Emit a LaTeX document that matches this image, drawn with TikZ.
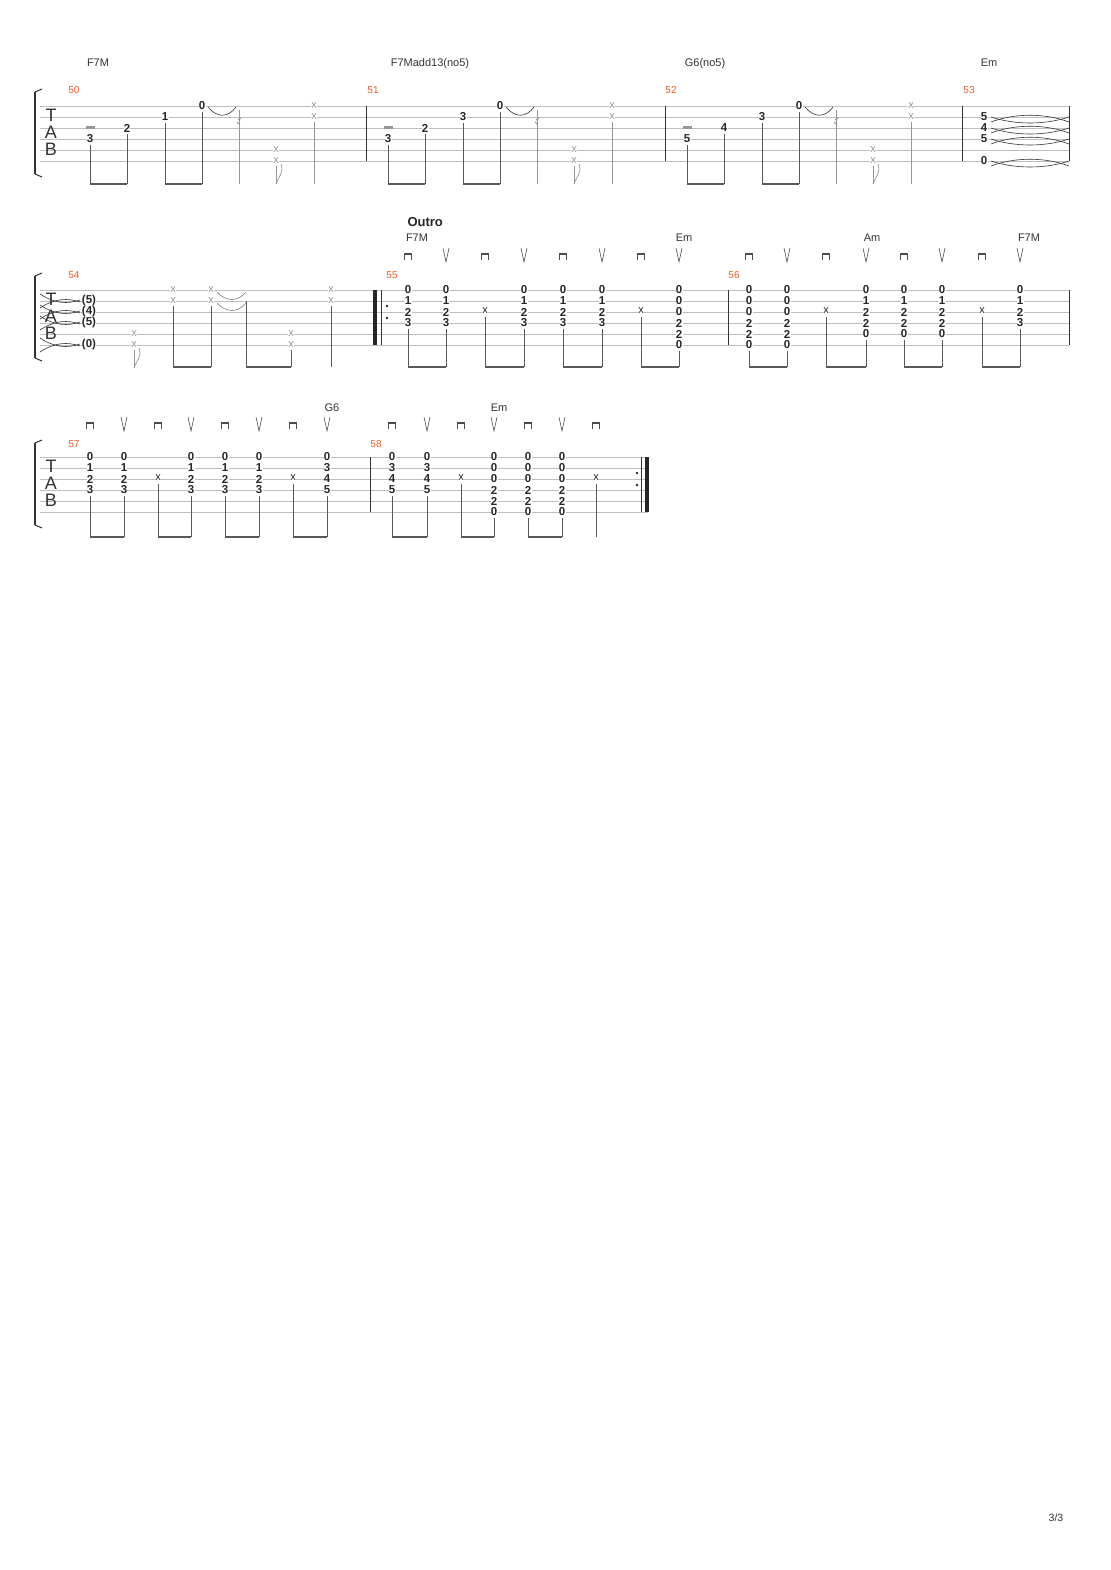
\documentclass[tikz,border=0pt]{standalone}
\usepackage{fontspec}
\setmainfont{Liberation Sans}
\definecolor{barnum}{RGB}{240,90,40}
\definecolor{ghost}{RGB}{150,150,150}
\definecolor{staffline}{RGB}{190,190,190}
\tikzset{
  fret/.style={font=\bfseries\fontsize{11.5}{11}\selectfont, inner sep=0.3pt, fill=white, text=black!85},
  dead/.style={font=\fontsize{11}{11}\selectfont, inner sep=0.2pt, fill=white, text=#1},
  dead/.default=black!85,
  chordname/.style={font=\fontsize{11}{11}\selectfont, text=black!80, anchor=base},
  barno/.style={font=\fontsize{10}{10}\selectfont, text=barnum, anchor=base},
  stemline/.style={black!65, line width=0.7pt},
  beamline/.style={black!65, line width=2pt},
  tieline/.style={black!80, line width=0.6pt},
}
\newcommand\staff[3]{% top y, x start, x end
  \foreach \s in {0,...,5} \draw[staffline, line width=0.5pt] (#2,{#1+\s*11}) -- (#3,{#1+\s*11});
  \draw[line width=1.6pt, black!80] (35,{#1-14}) -- (35,{#1+68});
  \draw[line width=1pt, black!80] (35,{#1-14}) -- (42,{#1-17});
  \draw[line width=1pt, black!80] (35,{#1+68}) -- (42,{#1+71});
  \node[font=\fontsize{18}{18}\selectfont, text=black!80] at (51,{#1+9}) {T};
  \node[font=\fontsize{18}{18}\selectfont, text=black!80] at (51,{#1+26}) {A};
  \node[font=\fontsize{18}{18}\selectfont, text=black!80] at (51,{#1+43}) {B};
}
\newcommand\dnstroke[2]{\draw[black!70, line width=0.6pt] (#1-3.5,#2+4) -- (#1-3.5,#2-3) -- (#1+3.5,#2-3) -- (#1+3.5,#2+4); \fill[black!70] (#1-3.5,#2-3) rectangle (#1+3.5,#2-1.2);}
\newcommand\upstroke[2]{\draw[black!70, line width=0.6pt] (#1-3,#2-7) -- (#1,#2+7) -- (#1+3,#2-7);}
\begin{document}
\begin{tikzpicture}[x=1pt,y=-1pt]
\useasboundingbox[fill=white] (0,0) rectangle (1110,1570);

% ----- row 1 -----
\def\rt{106}
\staff{\rt}{40}{1069}
\foreach \bx in {366,665,962,1069} \draw[black!80, line width=0.8pt] (\bx,\rt) -- (\bx,\rt+55);
\node[chordname] at (98,67) {F7M};
\node[chordname] at (430,67) {F7Madd13(no5)};
\node[chordname] at (705,67) {G6(no5)};
\node[chordname] at (989,67) {Em};
\foreach \bx/\bn in {74/50,373/51,671/52,969/53} \node[barno] at (\bx,94) {\bn};
\foreach \ox/\a/\b/\c in {0/3/2/1, 298/3/2/3, 597/5/4/3} {
  \fill[ghost] ({90+\ox-4.5},126.5) rectangle ({90+\ox+4.5},129.5);
  \node[fret] at ({90+\ox},139) {\a};
  \node[fret] at ({127+\ox},128) {\b};
  \node[fret] at ({165+\ox},117) {\c};
  \node[fret] at ({202+\ox},106) {0};
  \draw[tieline] ({208+\ox},107) .. controls ({217+\ox},118) and ({228+\ox},118) .. ({236+\ox},107);
  \draw[stemline] ({90+\ox},145) -- ({90+\ox},184);
  \draw[stemline] ({127+\ox},134) -- ({127+\ox},184);
  \draw[stemline] ({165+\ox},123) -- ({165+\ox},184);
  \draw[stemline] ({202+\ox},112) -- ({202+\ox},184);
  \draw[beamline] ({90+\ox},184) -- ({127+\ox},184);
  \draw[beamline] ({165+\ox},184) -- ({202+\ox},184);
  \draw[ghost, line width=0.7pt] ({239+\ox},110) -- ({239+\ox},184);
  \draw[ghost, line width=1pt] ({237+\ox},122) -- ({240+\ox},125) ({238+\ox},120) -- ({241+\ox},118);
  \node[dead=ghost] at ({276+\ox},150) {x};
  \node[dead=ghost] at ({276+\ox},161) {x};
  \draw[ghost, line width=0.7pt] ({276+\ox},166) -- ({276+\ox},184);
  \draw[ghost, line width=0.7pt] ({276+\ox},184) .. controls ({279+\ox},176) and ({284+\ox},172) .. ({281+\ox},164);
  \node[dead=ghost] at ({314+\ox},106) {x};
  \node[dead=ghost] at ({314+\ox},117) {x};
  \draw[ghost, line width=0.7pt] ({314+\ox},122) -- ({314+\ox},184);
}
\foreach \s in {2,3,4,6} {
  \draw[tieline] (991,{\rt+(\s-1)*11}) .. controls (1015,{\rt+(\s-1)*11+8}) and (1045,{\rt+(\s-1)*11+8}) .. (1069,{\rt+(\s-1)*11});
  \draw[tieline] (991,{\rt+(\s-1)*11+5}) .. controls (1015,{\rt+(\s-1)*11-4}) and (1045,{\rt+(\s-1)*11-4}) .. (1069,{\rt+(\s-1)*11+5});
}
\foreach \s/\f in {2/5,3/4,4/5,6/0} \node[fret] at (984,{\rt+(\s-1)*11}) {\f};

% ----- row 2 -----
\def\rt{290}
\staff{\rt}{40}{1069}
\foreach \bx in {728,1069} \draw[black!80, line width=0.8pt] (\bx,\rt) -- (\bx,\rt+55);
\fill[black!85] (373,\rt) rectangle (377,\rt+55);
\draw[black!80, line width=0.8pt] (381,\rt) -- (381,\rt+55);
\fill[black!85] (387,306) circle (1.4) (387,318) circle (1.4);
\foreach \s in {2,3,4,6} {
  \draw[tieline] (40,{\rt+(\s-1)*11+7}) .. controls (55,{\rt+(\s-1)*11-3}) and (68,{\rt+(\s-1)*11-3}) .. (80,{\rt+(\s-1)*11+1});
  \draw[tieline] (40,{\rt+(\s-1)*11-7}) .. controls (55,{\rt+(\s-1)*11+3}) and (68,{\rt+(\s-1)*11+3}) .. (80,{\rt+(\s-1)*11-1});
}
\foreach \s/\f in {2/(5),3/(4),4/(5),6/(0)} \node[fret] at (89,{\rt+(\s-1)*11}) {\f};
\node[barno] at (74,278) {54};
\node[dead=ghost] at (134,334) {x};
\node[dead=ghost] at (134,345) {x};
\draw[ghost, line width=0.7pt] (134,350) -- (134,368);
\draw[ghost, line width=0.7pt] (134,368) .. controls (137,360) and (142,356) .. (139,348);
\foreach \nx in {173,211,331} {
  \node[dead=ghost] at (\nx,290) {x};
  \node[dead=ghost] at (\nx,301) {x};
  \draw[stemline] (\nx,306) -- (\nx,367);
}
\draw[tieline, black!50] (217,292) .. controls (226,302) and (238,302) .. (246,292);
\draw[tieline, black!50] (217,303) .. controls (226,313) and (238,313) .. (246,303);
\draw[stemline] (246,301) -- (246,367);
\node[dead=ghost] at (291,334) {x};
\node[dead=ghost] at (291,345) {x};
\draw[stemline] (291,350) -- (291,367);
\draw[beamline] (173,367) -- (211,367);
\draw[beamline] (246,367) -- (291,367);

\node[font=\bfseries\fontsize{13}{13}\selectfont, text=black!85, anchor=base west] at (404,227) {Outro};
\node[chordname] at (417,241) {F7M};
\node[chordname] at (684,241) {Em};
\node[chordname] at (872,241) {Am};
\node[chordname] at (1029,241) {F7M};
\node[barno] at (392,278) {55};
\node[barno] at (734,278) {56};
% strokes and chords, measures 55 and 56
\foreach \cx/\kind/\ud in {408/F/d,446/F/u,485/X/d,524/F/u,563/F/d,602/F/u,641/X/d,679/E/u,
                         749/E/d,787/E/u,826/X/d,866/A/u,904/A/d,942/A/u,982/X/d,1020/F/u} {
  \if\ud d\dnstroke{\cx}{256}\else\upstroke{\cx}{255}\fi
  \if\kind F
    \foreach \s/\f in {1/0,2/1,3/2,4/3} \node[fret] at (\cx,{\rt+(\s-1)*11}) {\f};
    \draw[stemline] (\cx,329) -- (\cx,367);
  \fi
  \if\kind E
    \foreach \s/\f in {1/0,2/0,3/0,4/2,5/2,6/0} \node[fret] at (\cx,{\rt+(\s-1)*11}) {\f};
    \draw[stemline] (\cx,351) -- (\cx,367);
  \fi
  \if\kind A
    \foreach \s/\f in {1/0,2/1,3/2,4/2,5/0} \node[fret] at (\cx,{\rt+(\s-1)*11}) {\f};
    \draw[stemline] (\cx,340) -- (\cx,367);
  \fi
  \if\kind X
    \node[dead] at (\cx,311) {x};
    \draw[stemline] (\cx,317) -- (\cx,367);
  \fi
}
\foreach \xa/\xb in {408/446,485/524,563/602,641/679,749/787,826/866,904/942,982/1020}
  \draw[beamline] (\xa,367) -- (\xb,367);

% ----- row 3 -----
\def\rt{457}
\staff{\rt}{40}{648}
\draw[black!80, line width=0.8pt] (370,\rt) -- (370,\rt+55);
\fill[black!85] (637,473) circle (1.4) (637,485) circle (1.4);
\draw[black!80, line width=0.8pt] (641,\rt) -- (641,\rt+55);
\fill[black!85] (645,\rt) rectangle (649,\rt+55);
\node[chordname] at (332,411) {G6};
\node[chordname] at (499,411) {Em};
\node[barno] at (74,447) {57};
\node[barno] at (376,447) {58};
\foreach \cx/\kind/\ud in {90/F/d,124/F/u,158/X/d,191/F/u,225/F/d,259/F/u,293/X/d,327/G/u,
                         392/G/d,427/G/u,461/X/d,494/E/u,528/E/d,562/E/u,596/X/d} {
  \if\ud d\dnstroke{\cx}{425}\else\upstroke{\cx}{424}\fi
  \if\kind F
    \foreach \s/\f in {1/0,2/1,3/2,4/3} \node[fret] at (\cx,{\rt+(\s-1)*11}) {\f};
    \draw[stemline] (\cx,496) -- (\cx,537);
  \fi
  \if\kind G
    \foreach \s/\f in {1/0,2/3,3/4,4/5} \node[fret] at (\cx,{\rt+(\s-1)*11}) {\f};
    \draw[stemline] (\cx,496) -- (\cx,537);
  \fi
  \if\kind E
    \foreach \s/\f in {1/0,2/0,3/0,4/2,5/2,6/0} \node[fret] at (\cx,{\rt+(\s-1)*11}) {\f};
    \draw[stemline] (\cx,518) -- (\cx,537);
  \fi
  \if\kind X
    \node[dead] at (\cx,478) {x};
    \draw[stemline] (\cx,484) -- (\cx,537);
  \fi
}
\foreach \xa/\xb in {90/124,158/191,225/259,293/327,392/427,461/494,528/562}
  \draw[beamline] (\xa,537) -- (\xb,537);

\node[font=\fontsize{10.5}{11}\selectfont, text=black!80] at (1056,1518) {3/3};
\end{tikzpicture}
\end{document}
